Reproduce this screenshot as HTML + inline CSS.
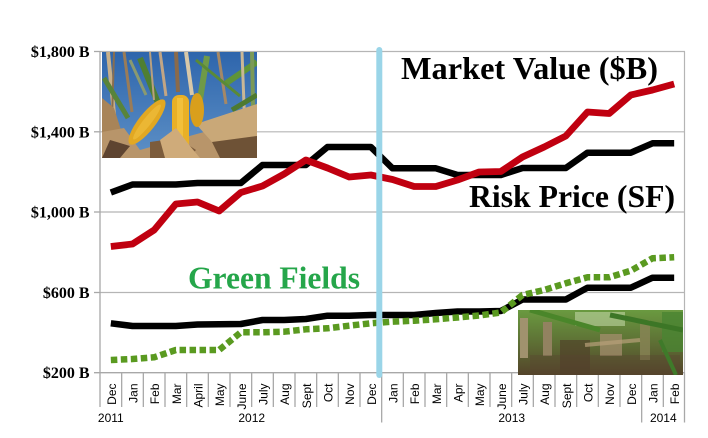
<!DOCTYPE html>
<html>
<head>
<meta charset="utf-8">
<style>
html,body{margin:0;padding:0;background:#fff;}
svg{display:block;}
</style>
</head>
<body>
<svg width="708" height="438" viewBox="0 0 708 438" xmlns="http://www.w3.org/2000/svg">
<defs>
<linearGradient id="sky" x1="0" y1="0" x2="0" y2="1">
<stop offset="0" stop-color="#2e65ac"/>
<stop offset="1" stop-color="#5d90c6"/>
</linearGradient>
<linearGradient id="field" x1="0" y1="0" x2="0" y2="1">
<stop offset="0" stop-color="#6a9a40"/>
<stop offset="0.45" stop-color="#5f7436"/>
<stop offset="1" stop-color="#54442a"/>
</linearGradient>
<clipPath id="c1"><rect x="102" y="52" width="155" height="106"/></clipPath>
<clipPath id="c2"><rect x="518" y="310" width="165" height="65"/></clipPath>
</defs>
<rect width="708" height="438" fill="#fff"/>

<!-- gridlines -->
<g stroke="#b5b5b5" stroke-width="1.2">
<line x1="100" y1="51.5" x2="685" y2="51.5"/>
<line x1="100" y1="131.8" x2="685" y2="131.8"/>
<line x1="100" y1="212" x2="685" y2="212"/>
<line x1="100" y1="292.5" x2="685" y2="292.5"/>
<line x1="684.5" y1="51.5" x2="684.5" y2="372.7"/>
</g>
<!-- axes -->
<g stroke="#a8a8a8" stroke-width="1.3">
<line x1="100" y1="51" x2="100" y2="407"/>
<line x1="94" y1="372.7" x2="685" y2="372.7"/>
<line x1="94" y1="51.5" x2="100" y2="51.5"/>
<line x1="94" y1="131.8" x2="100" y2="131.8"/>
<line x1="94" y1="212" x2="100" y2="212"/>
<line x1="94" y1="292.5" x2="100" y2="292.5"/>
<line x1="121.67" y1="372.7" x2="121.67" y2="407"/>
<line x1="143.33" y1="372.7" x2="143.33" y2="407"/>
<line x1="165" y1="372.7" x2="165" y2="407"/>
<line x1="186.67" y1="372.7" x2="186.67" y2="407"/>
<line x1="208.33" y1="372.7" x2="208.33" y2="407"/>
<line x1="230" y1="372.7" x2="230" y2="407"/>
<line x1="251.67" y1="372.7" x2="251.67" y2="407"/>
<line x1="273.33" y1="372.7" x2="273.33" y2="407"/>
<line x1="295" y1="372.7" x2="295" y2="407"/>
<line x1="316.67" y1="372.7" x2="316.67" y2="407"/>
<line x1="338.33" y1="372.7" x2="338.33" y2="407"/>
<line x1="360" y1="372.7" x2="360" y2="407"/>
<line x1="381.67" y1="372.7" x2="381.67" y2="422.5"/>
<line x1="403.33" y1="372.7" x2="403.33" y2="407"/>
<line x1="425" y1="372.7" x2="425" y2="407"/>
<line x1="446.67" y1="372.7" x2="446.67" y2="407"/>
<line x1="468.33" y1="372.7" x2="468.33" y2="407"/>
<line x1="490" y1="372.7" x2="490" y2="407"/>
<line x1="511.67" y1="372.7" x2="511.67" y2="407"/>
<line x1="533.33" y1="372.7" x2="533.33" y2="407"/>
<line x1="555" y1="372.7" x2="555" y2="407"/>
<line x1="576.67" y1="372.7" x2="576.67" y2="407"/>
<line x1="598.33" y1="372.7" x2="598.33" y2="407"/>
<line x1="620" y1="372.7" x2="620" y2="407"/>
<line x1="641.67" y1="372.7" x2="641.67" y2="422.5"/>
<line x1="663.33" y1="372.7" x2="663.33" y2="407"/>
<line x1="684.5" y1="372.7" x2="684.5" y2="422.5"/>
</g>

<!-- y labels -->
<g font-family="'Liberation Serif', serif" font-weight="bold" font-size="16" text-anchor="end" fill="#000">
<text x="89.5" y="57">$1,800 B</text>
<text x="89.5" y="137.3">$1,400 B</text>
<text x="89.5" y="217.5">$1,000 B</text>
<text x="89.5" y="298">$600 B</text>
<text x="89.5" y="378.2">$200 B</text>
</g>

<!-- month labels -->
<g font-family="'Liberation Sans', Arial, sans-serif" font-size="12" text-anchor="end" fill="#000">
<text transform="translate(115.8,383.5) rotate(-90)">Dec</text>
<text transform="translate(137.5,383.5) rotate(-90)">Jan</text>
<text transform="translate(159.2,383.5) rotate(-90)">Feb</text>
<text transform="translate(180.8,383.5) rotate(-90)">Mar</text>
<text transform="translate(202.5,383.5) rotate(-90)">April</text>
<text transform="translate(224.2,383.5) rotate(-90)">May</text>
<text transform="translate(245.8,383.5) rotate(-90)">June</text>
<text transform="translate(267.5,383.5) rotate(-90)">July</text>
<text transform="translate(289.2,383.5) rotate(-90)">Aug</text>
<text transform="translate(310.8,383.5) rotate(-90)">Sept</text>
<text transform="translate(332.5,383.5) rotate(-90)">Oct</text>
<text transform="translate(354.2,383.5) rotate(-90)">Nov</text>
<text transform="translate(375.8,383.5) rotate(-90)">Dec</text>
<text transform="translate(397.5,383.5) rotate(-90)">Jan</text>
<text transform="translate(419.2,383.5) rotate(-90)">Feb</text>
<text transform="translate(440.8,383.5) rotate(-90)">Mar</text>
<text transform="translate(462.5,383.5) rotate(-90)">Apr</text>
<text transform="translate(484.2,383.5) rotate(-90)">May</text>
<text transform="translate(505.8,383.5) rotate(-90)">June</text>
<text transform="translate(527.5,383.5) rotate(-90)">July</text>
<text transform="translate(549.2,383.5) rotate(-90)">Aug</text>
<text transform="translate(570.8,383.5) rotate(-90)">Sept</text>
<text transform="translate(592.5,383.5) rotate(-90)">Oct</text>
<text transform="translate(614.2,383.5) rotate(-90)">Nov</text>
<text transform="translate(635.8,383.5) rotate(-90)">Dec</text>
<text transform="translate(657.5,383.5) rotate(-90)">Jan</text>
<text transform="translate(679.2,383.5) rotate(-90)">Feb</text>
</g>
<g font-family="'Liberation Sans', Arial, sans-serif" font-size="12" text-anchor="middle" fill="#000">
<text x="110.8" y="422">2011</text>
<text x="251.7" y="422">2012</text>
<text x="511.7" y="422">2013</text>
<text x="663.3" y="422">2014</text>
</g>

<!-- photo 1: corn cobs -->
<g clip-path="url(#c1)">
<rect x="102" y="52" width="155" height="106" fill="url(#sky)"/>
<g stroke-linecap="butt" fill="none">
<line x1="108" y1="52" x2="116" y2="135" stroke="#c8b08a" stroke-width="4"/>
<line x1="114" y1="52" x2="112" y2="120" stroke="#8a6e4e" stroke-width="2"/>
<line x1="124" y1="52" x2="132" y2="112" stroke="#9a7c58" stroke-width="3"/>
<line x1="140" y1="58" x2="160" y2="108" stroke="#4f7f32" stroke-width="6"/>
<line x1="150" y1="52" x2="154" y2="100" stroke="#b9a07e" stroke-width="2"/>
<line x1="160" y1="52" x2="166" y2="96" stroke="#c2a584" stroke-width="3"/>
<line x1="176" y1="52" x2="178" y2="92" stroke="#8a6a4a" stroke-width="4"/>
<line x1="186" y1="52" x2="192" y2="95" stroke="#d8c8a8" stroke-width="4"/>
<line x1="207" y1="56" x2="198" y2="112" stroke="#6f9a48" stroke-width="6"/>
<line x1="218" y1="52" x2="226" y2="104" stroke="#a58866" stroke-width="3"/>
<line x1="225" y1="84" x2="257" y2="62" stroke="#5f9438" stroke-width="6"/>
<line x1="242" y1="52" x2="246" y2="158" stroke="#c9b796" stroke-width="3"/>
<line x1="252" y1="52" x2="254" y2="158" stroke="#7b9a58" stroke-width="4"/>
<line x1="104" y1="78" x2="128" y2="118" stroke="#58843a" stroke-width="5"/>
<line x1="130" y1="60" x2="146" y2="95" stroke="#8a9a70" stroke-width="3"/>
<line x1="232" y1="110" x2="257" y2="95" stroke="#4d7a30" stroke-width="5"/>
<line x1="196" y1="60" x2="240" y2="96" stroke="#5a8a36" stroke-width="3"/>
</g>
<polygon points="102,98 114,108 128,152 102,158" fill="#a88458"/>
<polygon points="102,132 124,128 140,150 168,142 204,132 230,118 257,126 257,158 102,158" fill="#b8956a"/>
<polygon points="110,140 130,146 120,158 102,158" fill="#5e4430"/>
<polygon points="196,124 257,104 257,136 212,142" fill="#c9a878"/>
<polygon points="212,142 257,136 257,158 220,158" fill="#6e5236"/>
<polygon points="150,142 178,138 196,150 188,158 150,158" fill="#7c5c3c"/>
<ellipse cx="147" cy="122" rx="28" ry="8.5" transform="rotate(-52 147 122)" fill="#e2a822"/>
<ellipse cx="147" cy="122" rx="22" ry="4" transform="rotate(-52 147 122)" fill="#f0bd3c" opacity="0.7"/>
<rect x="172" y="95" width="17" height="56" rx="7" fill="#e9b026"/>
<rect x="177" y="98" width="6" height="50" fill="#f5c744" opacity="0.7"/>
<ellipse cx="197" cy="110" rx="7" ry="17" fill="#d99f1c"/>
<polygon points="160,140 176,128 190,146 200,158 165,158" fill="#cfab7a"/>
</g>

<!-- photo 2: corn field -->
<g clip-path="url(#c2)">
<rect x="518" y="310" width="165" height="65" fill="url(#field)"/>
<rect x="520" y="318" width="8" height="40" fill="#a0926e"/>
<rect x="543" y="322" width="9" height="34" fill="#928260"/>
<rect x="575" y="312" width="50" height="14" fill="#c0d6a4" opacity="0.6"/>
<rect x="600" y="334" width="22" height="22" fill="#a89070" opacity="0.7"/>
<rect x="640" y="320" width="10" height="40" fill="#8a8456" opacity="0.8"/>
<rect x="662" y="312" width="21" height="40" fill="#4a8432" opacity="0.8"/>
<rect x="560" y="340" width="30" height="35" fill="#4e3c28" opacity="0.6"/>
<rect x="530" y="355" width="150" height="20" fill="#5a4630" opacity="0.35"/>
<line x1="530" y1="310" x2="600" y2="330" stroke="#4a862a" stroke-width="5"/>
<line x1="610" y1="315" x2="683" y2="330" stroke="#3c7626" stroke-width="5"/>
<line x1="585" y1="345" x2="640" y2="340" stroke="#b8a07a" stroke-width="4" opacity="0.7"/>
<line x1="660" y1="340" x2="676" y2="375" stroke="#3f7a2a" stroke-width="4"/>
</g>

<!-- series -->
<g fill="none" stroke-linejoin="round" stroke-linecap="butt" stroke-width="6.5">
<polyline stroke="#000" points="110.83,323.3 132.5,326 154.17,326 175.83,326 197.5,324.5 219.17,324.3 240.83,324 262.5,320 284.17,320 305.83,319 327.5,315.7 349.17,315.7 370.83,315 392.5,315 414.17,315 435.83,313 457.5,311.5 479.17,311.5 500.83,311 522.5,299.5 544.17,299.5 565.83,299.5 587.5,287.7 609.17,287.7 630.83,287.7 652.5,277.7 674.17,277.7"/>
<polyline stroke="#5a9a20" stroke-dasharray="6.5 3.5" points="110.83,360 132.5,359 154.17,357.3 175.83,350 197.5,350 219.17,350 240.83,332.3 262.5,332.3 284.17,331.7 305.83,329.3 327.5,328.3 349.17,325.7 370.83,323.3 392.5,321.7 414.17,320.7 435.83,319.3 457.5,317.5 479.17,315.5 500.83,312.5 522.5,295 544.17,290 565.83,283.3 587.5,277.3 609.17,277.3 630.83,270.7 652.5,258.3 674.17,257.3"/>
<polyline stroke="#000" points="110.83,192.5 132.5,184.5 154.17,184.5 175.83,184.5 197.5,183 219.17,183 240.83,183 262.5,165 284.17,165 305.83,165 327.5,147 349.17,147 370.83,147 392.5,168.3 414.17,168.3 435.83,168.3 457.5,175 479.17,175 500.83,175 522.5,168 544.17,168 565.83,168 587.5,152.7 609.17,152.7 630.83,152.7 652.5,143.3 674.17,143.3"/>
<polyline stroke="#c00010" stroke-width="6.8" points="110.83,246.5 132.5,244 154.17,230 175.83,204 197.5,202 219.17,211 240.83,192.5 262.5,186 284.17,174 305.83,160 327.5,168 349.17,177 370.83,175 392.5,179.5 414.17,186.5 435.83,186.5 457.5,180 479.17,172 500.83,171.5 522.5,157 544.17,147 565.83,136 587.5,112 609.17,113.5 630.83,95 652.5,90 674.17,84"/>
</g>

<!-- vertical marker -->
<line x1="379.3" y1="50" x2="379.3" y2="375" stroke="#9ad5e8" stroke-width="6" stroke-linecap="round"/>

<!-- annotations -->
<g font-family="'Liberation Serif', serif" font-weight="bold" font-size="32">
<text x="401" y="79" fill="#000" textLength="257" lengthAdjust="spacingAndGlyphs">Market Value ($B)</text>
<text x="469" y="207" fill="#000" textLength="206" lengthAdjust="spacingAndGlyphs">Risk Price (SF)</text>
<text x="188" y="288.5" fill="#25a64a" textLength="172" lengthAdjust="spacingAndGlyphs">Green Fields</text>
</g>
</svg>
</body>
</html>
